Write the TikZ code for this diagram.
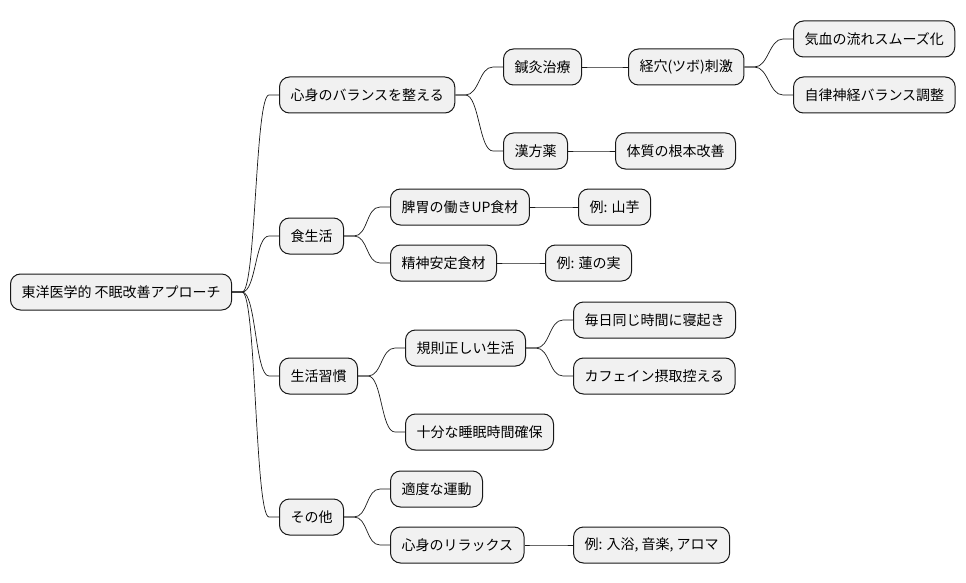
\documentclass[tikz,border=0pt]{standalone}
\usepackage{fontspec}
\setmainfont{Noto Sans CJK JP}
\definecolor{boxfill}{HTML}{F1F1F1}
\definecolor{boxline}{HTML}{181818}
\begin{document}
\begin{tikzpicture}[x=1pt, y=-1pt,
  box/.style={draw=boxline, fill=boxfill, line width=1pt, rounded corners=10pt, anchor=west,
    minimum height=36pt, inner xsep=11pt, font=\fontsize{14}{16}\selectfont},
  branch/.style={line width=0.7pt, draw=boxline,
    to path={-- ++(10,0) .. controls +(14,0) and +(-14,0) .. ([xshift=-10pt]\tikztotarget) -- (\tikztotarget)}}]
  \useasboundingbox (0,0) rectangle (966,583);
  % root
  \node[box] (root) at (10,292) {東洋医学的 不眠改善アプローチ};
  % level 1
  \node[box] (a) at (279,95) {心身のバランスを整える};
  \node[box] (b) at (279,236) {食生活};
  \node[box] (c) at (279,376) {生活習慣};
  \node[box] (d) at (279,517) {その他};
  % level 2
  \node[box] (a1) at (503,67) {鍼灸治療};
  \node[box] (a2) at (503,151) {漢方薬};
  \node[box] (b1) at (390,207) {脾胃の働きUP食材};
  \node[box] (b2) at (390,263) {精神安定食材};
  \node[box] (c1) at (405,348) {規則正しい生活};
  \node[box] (c2) at (405,432) {十分な睡眠時間確保};
  \node[box] (d1) at (390,489) {適度な運動};
  \node[box] (d2) at (390,545) {心身のリラックス};
  % level 3
  \node[box] (a11) at (628,67) {経穴(ツボ)刺激};
  \node[box] (a21) at (615,151) {体質の根本改善};
  \node[box] (b11) at (578,207) {例: 山芋};
  \node[box] (b21) at (545,263) {例: 蓮の実};
  \node[box] (c11) at (573,320) {毎日同じ時間に寝起き};
  \node[box] (c12) at (573,376) {カフェイン摂取控える};
  \node[box] (d21) at (573,545) {例: 入浴, 音楽, アロマ};
  % level 4
  \node[box] (a111) at (793,39) {気血の流れスムーズ化};
  \node[box] (a112) at (793,95) {自律神経バランス調整};
  \foreach \p/\c in {root/a, root/b, root/c, root/d, a/a1, a/a2, a1/a11, a11/a111, a11/a112,
      a2/a21, b/b1, b/b2, b1/b11, b2/b21, c/c1, c/c2, c1/c11, c1/c12, d/d1, d/d2, d2/d21}
    \draw[branch] (\p.east) to (\c.west);
\end{tikzpicture}
\end{document}
